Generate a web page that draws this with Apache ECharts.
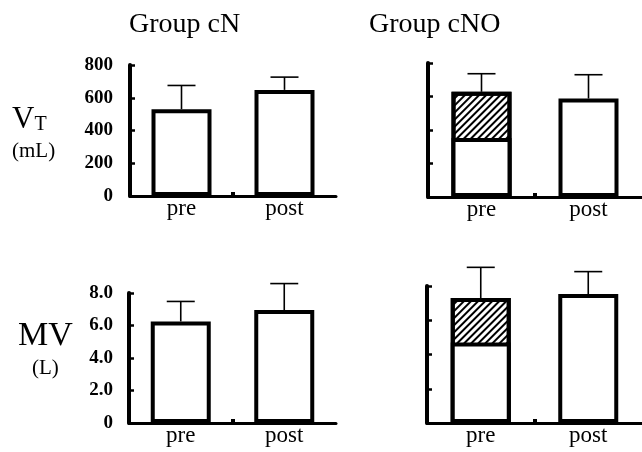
<!DOCTYPE html>
<html><head><meta charset="utf-8">
<script src="https://cdn.jsdelivr.net/npm/echarts@6/dist/echarts.min.js"></script>
<style>html,body{margin:0;padding:0;background:#fff}#c{width:642px;height:452px}</style>
</head><body><div id="c"></div>
<script>
// ---- data ----
const categories = ['pre', 'post'];
const groupTitles = ['Group cN', 'Group cNO'];
const mvTicks = ['0', '2.0', '4.0', '6.0', '8.0'];

const cN_VT_mean = [530, 648];
const cN_VT_sd = [145, 78];
const cNO_VT_mean = [628, 588];
const cNO_VT_sd = [108, 142];
const cNO_VT_preLower = 352;

const cN_MV_mean = [6.25, 6.95];
const cN_MV_sd = [1.23, 1.63];
const cNO_MV_mean = [7.3, 7.53];
const cNO_MV_sd = [1.79, 1.31];
const cNO_MV_preLower = 4.7;

// ---- layout ----
const panels = [
  {grid: {left: 130, top: 65, width: 206, height: 131}, yOff: 12, max: 800, step: 200, labels: true, fmt: v => String(v), mean: cN_VT_mean, sd: cN_VT_sd, lower: null},
  {grid: {left: 428, top: 63, width: 216, height: 134}, yOff: 10, max: 800, step: 200, labels: false, fmt: v => String(v), mean: cNO_VT_mean, sd: cNO_VT_sd, lower: cNO_VT_preLower},
  {grid: {left: 129, top: 293, width: 207, height: 130}, yOff: 11, max: 8, step: 2, labels: true, fmt: v => mvTicks[Math.round(v / 2)], mean: cN_MV_mean, sd: cN_MV_sd, lower: null},
  {grid: {left: 427, top: 286, width: 218, height: 137}, yOff: 12, max: 8, step: 2, labels: false, fmt: v => mvTicks[Math.round(v / 2)], mean: cNO_MV_mean, sd: cNO_MV_sd, lower: cNO_MV_preLower}
];

const serif = 'Liberation Serif';
const grids = [], xAxes = [], yAxes = [], series = [];
const hatch = {symbol: 'rect', symbolSize: 1, dashArrayX: [[1, 0]], dashArrayY: [1.2, 2.6], rotation: -Math.PI / 4, color: '#000'};
const BW = 60;

panels.forEach((p, i) => {
  grids.push(p.grid);
  xAxes.push({
    type: 'value', gridIndex: i, min: 0, max: 2,
    axisLine: {show: true, lineStyle: {color: '#000', width: 3}},
    axisTick: {show: true, inside: true, length: 4, customValues: [1], lineStyle: {color: '#000', width: 4}},
    axisLabel: {show: true, customValues: [0.5, 1.5], margin: 1, formatter: v => categories[Math.floor(v)],
      fontFamily: serif, fontSize: 23, color: '#000'},
    splitLine: {show: false}
  });
  yAxes.push({
    type: 'value', gridIndex: i, min: 0, max: p.max, interval: p.step, offset: p.yOff,
    axisLine: {show: true, lineStyle: {color: '#000', width: 4}},
    axisTick: {show: true, inside: true, length: 5, lineStyle: {color: '#000', width: 2.5}},
    axisLabel: {show: p.labels, margin: 5, formatter: p.fmt, fontFamily: serif, fontSize: 19, fontWeight: 'bold', color: '#000'},
    splitLine: {show: false}
  });
  if (p.lower !== null) {
    // full-height hatched bar underneath; the lower white part is drawn over it
    series.push({
      type: 'bar', xAxisIndex: i, yAxisIndex: i, barWidth: BW, barGap: '-100%', z: 3,
      itemStyle: {color: '#fff', borderColor: '#000', borderWidth: 4, decal: hatch},
      data: p.mean.map((m, k) => k === 0 ? [k + 0.5, m] : [k + 0.5, '-'])
    });
  }
  const lowerVals = p.mean.map((m, k) => (k === 0 && p.lower !== null) ? p.lower : m);
  series.push({
    type: 'bar', xAxisIndex: i, yAxisIndex: i, barWidth: BW, barGap: '-100%', z: 4,
    itemStyle: {color: '#fff', borderColor: '#000', borderWidth: 4},
    data: lowerVals.map((v, k) => [k + 0.5, v])
  });
  series.push({
    type: 'custom', xAxisIndex: i, yAxisIndex: i, clip: false, z: 2,
    data: p.mean.map((m, k) => [k + 0.5, m, m + p.sd[k]]),
    renderItem: (params, api) => {
      const base = api.coord([api.value(0), api.value(1)]);
      const top = api.coord([api.value(0), api.value(2)]);
      const half = 14;
      return {type: 'group', children: [
        {type: 'line', shape: {x1: base[0], y1: base[1], x2: top[0], y2: top[1]}, style: {stroke: '#000', lineWidth: 1.6}},
        {type: 'line', shape: {x1: top[0] - half, y1: top[1], x2: top[0] + half, y2: top[1]}, style: {stroke: '#000', lineWidth: 1.6}}
      ]};
    }
  });
});

const normal = {fontFamily: serif, fontWeight: 'normal', color: '#000'};
const titles = [
  {text: groupTitles[0], left: 124, top: 6, textStyle: Object.assign({fontSize: 28}, normal)},
  {text: groupTitles[1], left: 364, top: 6, textStyle: Object.assign({fontSize: 28}, normal)},
  {text: '{v|V}{t|T}', left: 7, top: 99, textStyle: Object.assign({}, normal, {rich: {
    v: Object.assign({fontSize: 31}, normal), t: Object.assign({fontSize: 20, verticalAlign: 'bottom'}, normal)}})},
  {text: '(mL)', left: 7, top: 136, textStyle: Object.assign({fontSize: 21}, normal)},
  {text: '(L)', left: 27, top: 353, textStyle: Object.assign({fontSize: 21}, normal)},
  {text: 'MV', left: 13, top: 314, textStyle: Object.assign({fontSize: 34}, normal)}
];

const chart = echarts.init(document.getElementById('c'), null, {renderer: 'canvas'});
chart.setOption({
  backgroundColor: '#fff', animation: false,
  title: titles, grid: grids, xAxis: xAxes, yAxis: yAxes, series: series
});
</script></body></html>
